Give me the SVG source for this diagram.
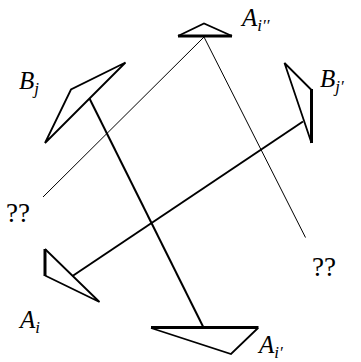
<svg xmlns="http://www.w3.org/2000/svg" width="361" height="362" viewBox="0 0 361 362">
<style>
.tri{fill:none;stroke:#000;stroke-width:1.8;stroke-linejoin:miter}
.thick{stroke:#000;stroke-width:3;fill:none;stroke-linecap:butt}
.thin{stroke:#000;stroke-width:1;fill:none}
.beam{stroke:#000;stroke-width:2;fill:none}
.lbl{font-family:"Liberation Serif",serif;font-style:italic;font-size:25px;fill:#000}
.sub{font-size:17px}
.q{font-family:"Liberation Serif",serif;font-size:27px;fill:#000}
</style>
<rect width="361" height="362" fill="#fff"/>
<g id="connectors">
<line class="thin" x1="204" y1="37" x2="43" y2="197"/>
<line class="thin" x1="204" y1="37" x2="305.5" y2="237.5"/>
<line class="beam" x1="89.5" y1="98.5" x2="203.5" y2="327.5"/>
<line class="beam" x1="303" y1="121.5" x2="72.5" y2="276"/>
</g>
<g id="Aipp">
<polyline class="tri" points="178,36 204,23.5 232,36"/>
<line class="thick" x1="178" y1="36" x2="232" y2="36"/>
<text class="lbl" x="242" y="26">A<tspan class="sub" dy="5">i′′</tspan></text>
</g>
<g id="Bj">
<polygon class="tri" points="125.5,62.5 71,89.5 45,143"/>
<text class="lbl" x="19" y="89">B<tspan class="sub" dy="5">j</tspan></text>
</g>
<g id="Bjp">
<polyline class="tri" points="311.5,90 284.5,63 311.5,143"/>
<line class="thick" x1="311.5" y1="89" x2="311.5" y2="143"/>
<text class="lbl" x="320" y="87">B<tspan class="sub" dy="5">j′</tspan></text>
</g>
<g id="Ai">
<polyline class="tri" points="45,275.5 99.5,302 45,249"/>
<line class="thick" x1="45" y1="249" x2="45" y2="276"/>
<text class="lbl" x="20" y="328">A<tspan class="sub" dy="5">i</tspan></text>
</g>
<g id="Aip">
<polyline class="tri" points="151,328 231,354 258,328"/>
<line class="thick" x1="151" y1="327.5" x2="258.5" y2="327.5"/>
<text class="lbl" x="259" y="353">A<tspan class="sub" dy="5">i′</tspan></text>
</g>
<g id="q1"><text class="q" x="6" y="222">??</text></g>
<g id="q2"><text class="q" x="312" y="276">??</text></g>
</svg>
